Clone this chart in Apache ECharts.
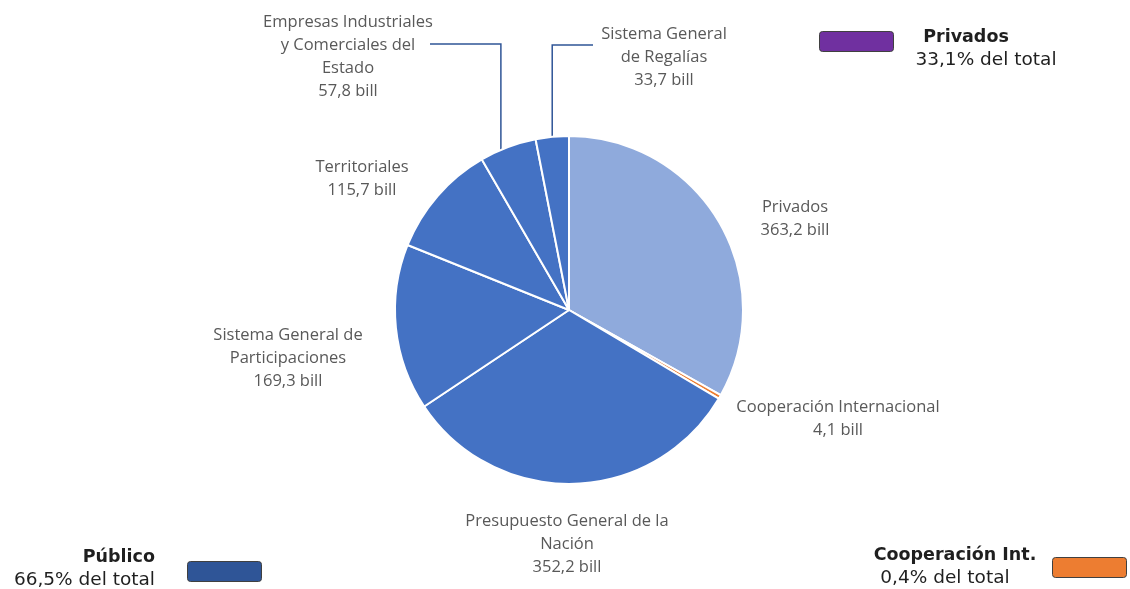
<!DOCTYPE html>
<html>
<head>
<meta charset="utf-8">
<script src="https://cdn.jsdelivr.net/npm/echarts@6/dist/echarts.min.js"></script>
<style>
  html, body { margin: 0; padding: 0; background: #fff; }
  #chart { width: 1130px; height: 589px; }
</style>
</head>
<body>
<div id="chart"></div>
<script>
// fuentes de financiamiento (billones)
const categories = [
  'Privados',
  'Cooperación Internacional',
  'Presupuesto General de la Nación',
  'Sistema General de Participaciones',
  'Territoriales',
  'Empresas Industriales y Comerciales del Estado',
  'Sistema General de Regalías'
];
const labelNames = [
  'Privados',
  'Cooperación Internacional',
  'Presupuesto General de la\nNación',
  'Sistema General de\nParticipaciones',
  'Territoriales',
  'Empresas Industriales\ny Comerciales del\nEstado',
  'Sistema General\nde Regalías'
];
const values = [363.2, 4.1, 352.2, 169.3, 115.7, 57.8, 33.7];
const sliceColors = ['#8FAADC', '#ED7D31', '#4472C4', '#4472C4', '#4472C4', '#4472C4', '#4472C4'];

// recuadros de grupo
const groupNames = ['Privados', 'Público', 'Cooperación Int.'];
const groupShares = ['33,1% del total', '66,5% del total', '0,4% del total'];
const groupColors = ['#7030A0', '#2F5597', '#ED7D31'];

const chart = echarts.init(document.getElementById('chart'));

const fmt = v => v.toFixed(1).replace('.', ',') + ' bill';

// posición de cada etiqueta (centro del bloque de texto)
const labelSpots = [
  [795, 219], [838, 419], [567, 544], [288, 358], [362, 179], [348, 57], [664, 57]
];

const pieData = categories.map((name, i) => ({
  name,
  value: values[i],
  itemStyle: { color: sliceColors[i] },
  labelLine: { show: i >= 5 }
}));

const groupSpots = [
  { box: [819, 31], title: [966, 37], share: [986, 60], align: 'center' },
  { box: [187, 561], title: [155, 557], share: [155, 580], align: 'right' },
  { box: [1052, 557], title: [955, 555], share: [945, 578], align: 'center' }
];

const graphic = [];
groupNames.forEach((g, i) => {
  const s = groupSpots[i];
  graphic.push({
    type: 'rect',
    left: s.box[0], top: s.box[1],
    shape: { width: 74, height: 20, r: 3 },
    style: { fill: groupColors[i], stroke: '#404040', lineWidth: 1 }
  });
  graphic.push({
    type: 'text',
    x: s.title[0], y: s.title[1],
    style: {
      text: g, fill: '#1f1f1f', font: 'bold 17.5px "DejaVu Sans"',
      textAlign: s.align, textVerticalAlign: 'middle'
    }
  });
  graphic.push({
    type: 'text',
    x: s.share[0], y: s.share[1],
    style: {
      text: groupShares[i], fill: '#1f1f1f', font: '18.5px "DejaVu Sans"',
      textAlign: s.align, textVerticalAlign: 'middle'
    }
  });
});

const option = {
  animation: false,
  backgroundColor: '#fff',
  graphic,
  series: [{
    type: 'pie',
    center: [569, 310],
    radius: 174,
    startAngle: 90,
    clockwise: true,
    data: pieData,
    itemStyle: { borderColor: '#fff', borderWidth: 2 },
    label: {
      show: true,
      position: 'outside',
      formatter: p => labelNames[p.dataIndex] + '\n' + fmt(p.value),
      color: '#595959',
      fontFamily: 'Open Sans',
      fontSize: 16.5,
      lineHeight: 23,
      align: 'center'
    },
    labelLine: {
      lineStyle: { color: '#2F5597', width: 1.5 }
    },
    labelLayout: params => {
      const i = params.dataIndex;
      const [x, y] = labelSpots[i];
      const out = { x, y, align: 'center', verticalAlign: 'middle' };
      if (i === 5 || i === 6) {
        const p0 = params.labelLinePoints ? params.labelLinePoints[0] : [x, y];
        const lx = i === 5 ? p0[0] - 7 : p0[0];
        const ly = i === 5 ? 44 : 45;
        const ex = i === 5 ? 430 : 593;
        out.labelLinePoints = [[lx, p0[1] + 6], [lx, ly], [ex, ly]];
      }
      return out;
    }
  }]
};

chart.setOption(option);
</script>
</body>
</html>
